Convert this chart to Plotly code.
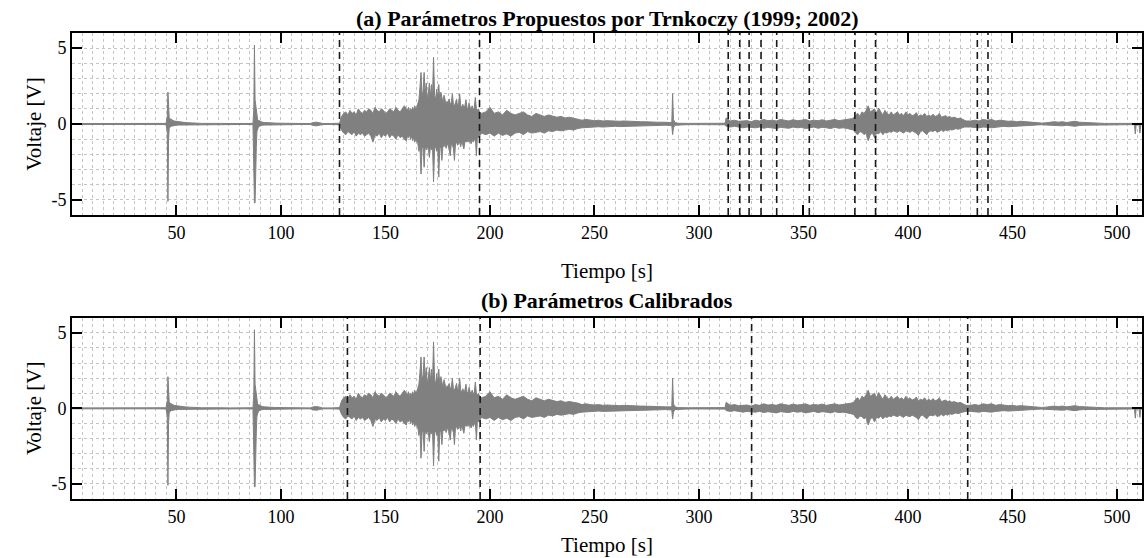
import plotly.graph_objects as go

# ---------------- data ----------------
# Segment A: quiet start, two impulsive events (~46 s, ~87.5 s), quiet
tA = [0, 10, 20, 30, 40, 45.0, 45.6, 45.9, 46.2, 46.5,
      46.9, 47.4, 48.0, 48.8, 49.8, 51, 52.5, 54, 56, 58,
      62, 68, 70.5, 71, 76, 82, 86.6, 87.0, 87.3, 87.6,
      87.9, 88.2, 88.5, 88.8, 89.2, 89.7, 90.3, 91, 92, 93.5,
      95, 97, 100, 104, 110, 114, 115.5, 117, 118.5, 120,
      124, 128]
upA = [0.03, 0.03, 0.03, 0.03, 0.03, 0.04, 0.5, 2.1, 1.3, 0.4,
       0.35, 0.3, 0.25, 0.2, 0.18, 0.15, 0.12, 0.1, 0.08, 0.06,
       0.04, 0.04, 0.07, 0.04, 0.03, 0.03, 0.04, 1.0, 5.2, 1.6,
       1.2, 0.8, 0.4, 0.3, 0.25, 0.2, 0.15, 0.12, 0.1, 0.08,
       0.07, 0.06, 0.05, 0.04, 0.03, 0.03, 0.1, 0.12, 0.08, 0.03,
       0.03, 0.05]
loA = [-0.03, -0.03, -0.03, -0.03, -0.03, -0.04, -0.5, -5.1, -1.0, -0.3,
       -0.2, -0.15, -0.12, -0.1, -0.08, -0.07, -0.06, -0.05, -0.04, -0.04,
       -0.03, -0.03, -0.06, -0.03, -0.03, -0.03, -0.04, -0.9, -5.2, -5.2,
       -5.2, -1.5, -0.5, -0.35, -0.2, -0.15, -0.1, -0.08, -0.07, -0.06,
       -0.05, -0.04, -0.04, -0.03, -0.03, -0.03, -0.1, -0.12, -0.08, -0.03,
       -0.03, -0.05]

# Segment B: onset of the main event, 129..160 s (1 s)
tB = list(range(129, 161))
upB = [0.5, 0.7, 0.8, 0.6, 0.9, 0.7, 0.8, 0.6, 1.0, 0.8,
       0.7, 0.9, 0.8, 1.0, 0.9, 0.7, 1.1, 0.9, 0.8, 1.0,
       0.9, 0.7, 0.8, 1.0, 0.9, 0.8, 1.1, 0.9, 0.8, 1.0,
       1.2, 1.0]
loB = [-0.4, -0.6, -0.7, -0.5, -0.6, -0.7, -0.5, -0.8, -0.6, -0.7,
       -0.6, -0.8, -0.7, -0.6, -0.8, -1.2, -0.7, -0.8, -0.6, -0.9,
       -0.7, -0.8, -0.6, -0.9, -0.7, -0.8, -1.0, -0.7, -0.9, -0.8,
       -1.0, -1.1]

# Segment C: strong burst, 160.5..195 s (0.5 s)
tC = [160.5 + 0.5 * i for i in range(70)]
upC = [0.9, 1.1, 0.8, 1.0, 0.9, 1.1, 0.9, 1.2, 1.0, 1.1,
       1.3, 1.6, 2.4, 3.4, 1.8, 2.2, 3.4, 1.9, 2.7, 1.6,
       2.0, 2.7, 1.8, 2.6, 1.7, 4.4, 1.9, 1.6, 2.3, 1.7,
       2.6, 1.5, 2.1, 1.6, 1.4, 1.9, 1.5, 1.3, 1.5, 1.4,
       1.65, 1.3, 1.4, 2.0, 1.3, 1.2, 1.4, 1.65, 1.2, 1.3,
       2.0, 1.2, 1.1, 1.3, 1.1, 1.2, 1.6, 1.1, 1.0, 1.4,
       1.1, 1.0, 1.2, 0.9, 1.1, 1.75, 1.0, 0.9, 1.0, 0.8]
loC = [-0.8, -0.9, -0.7, -1.0, -0.8, -1.1, -0.9, -1.2, -1.0, -1.1,
       -1.3, -1.8, -1.4, -3.3, -1.6, -1.5, -2.85, -1.4, -1.7, -1.5,
       -1.6, -2.2, -1.5, -1.7, -1.4, -3.8, -1.6, -1.5, -1.8, -1.6,
       -3.5, -1.5, -1.6, -2.4, -1.4, -1.5, -1.3, -1.6, -1.4, -1.3,
       -1.5, -2.1, -1.3, -1.4, -1.6, -2.4, -1.3, -1.2, -1.4, -1.3,
       -1.2, -1.5, -1.1, -1.3, -1.65, -1.2, -1.1, -1.2, -1.0, -1.2,
       -1.1, -1.3, -1.0, -1.2, -1.1, -0.9, -2.1, -0.8, -0.9, -0.8]

# Segment D: coda, 196..286 s (2 s)
tD = list(range(196, 287, 2))
upD = [0.7, 0.8, 1.1, 0.7, 0.8, 0.6, 0.9, 0.7, 0.6, 0.7,
       0.8, 0.6, 0.5, 0.7, 0.6, 0.5, 0.6, 0.5, 0.45, 0.5,
       0.4, 0.45, 0.4, 0.35,
       0.25, 0.3, 0.25, 0.22, 0.25, 0.2, 0.22, 0.2, 0.2, 0.18,
       0.2, 0.18, 0.15, 0.18, 0.15, 0.15, 0.13, 0.15, 0.12, 0.12,
       0.1, 0.1]
loD = [-0.6, -0.7, -0.6, -0.8, -0.6, -0.75, -0.65, -0.8, -0.6, -0.55,
       -0.7, -0.5, -0.6, -0.55, -0.5, -0.6, -0.45, -0.5, -0.4, -0.45,
       -0.4, -0.35, -0.4, -0.3,
       -0.25, -0.2, -0.22, -0.2, -0.18, -0.2, -0.17, -0.18, -0.15, -0.17,
       -0.15, -0.14, -0.15, -0.12, -0.13, -0.12, -0.1, -0.11, -0.1, -0.09,
       -0.08, -0.08]

# Segment E: small spike ~287 s and quiet
tE = [287.0, 287.4, 287.8, 288.5, 290, 295, 300, 305, 310, 312.5]
upE = [0.1, 2.0, 0.3, 0.1, 0.05, 0.04, 0.04, 0.04, 0.04, 0.05]
loE = [-0.1, -0.7, -0.25, -0.08, -0.05, -0.04, -0.04, -0.04, -0.04, -0.05]

# Segment F: 313..373 s (2 s)
tF = list(range(313, 374, 2))
upF = [0.4, 0.2, 0.25, 0.18, 0.2, 0.22, 0.15, 0.25, 0.2, 0.3,
       0.22, 0.25, 0.2, 0.3, 0.25, 0.2, 0.28, 0.22, 0.25, 0.3,
       0.2, 0.25, 0.22, 0.28, 0.2, 0.25, 0.3, 0.22, 0.25, 0.3,
       0.35]
loF = [-0.15, -0.2, -0.15, -0.2, -0.25, -0.2, -0.22, -0.25, -0.2, -0.28,
       -0.22, -0.25, -0.3, -0.22, -0.25, -0.28, -0.2, -0.25, -0.22, -0.3,
       -0.25, -0.2, -0.28, -0.22, -0.25, -0.3, -0.22, -0.28, -0.25, -0.3,
       -0.35]

# Segment G: second burst, 374..428 s (1 s)
tG = list(range(374, 429))
upG = [0.4, 0.6, 0.7, 0.5, 0.8, 0.7, 0.9, 1.2, 0.8, 0.9,
       1.0, 0.7, 1.05, 0.8, 0.6, 0.9, 0.7, 0.6, 0.8, 0.6,
       0.7, 0.8, 0.6, 0.7, 0.55, 0.8, 0.6, 0.7, 0.55, 0.6,
       0.75, 0.5, 0.6, 0.55, 0.7, 0.5, 0.6, 0.5, 0.65, 0.5,
       0.55, 0.7, 0.45, 0.5, 0.55, 0.45, 0.5, 0.4, 0.45, 0.4,
       0.35, 0.4, 0.3, 0.25, 0.2]
loG = [-0.4, -0.6, -0.7, -0.5, -0.55, -0.7, -0.6, -1.1, -0.7, -0.6,
       -0.9, -0.6, -0.65, -0.5, -0.7, -0.55, -0.6, -0.5, -0.55, -0.45,
       -0.5, -0.55, -0.45, -0.5, -0.6, -0.45, -0.5, -0.55, -0.45, -0.5,
       -0.6, -0.75, -0.5, -0.45, -0.55, -0.7, -0.5, -0.45, -0.5, -0.4,
       -0.55, -0.45, -0.4, -0.5, -0.4, -0.45, -0.35, -0.4, -0.35, -0.3,
       -0.35, -0.3, -0.25, -0.2, -0.2]

# Segment H: tail, 430..506 s (2 s)
tH = list(range(430, 507, 2))
upH = [0.2, 0.25, 0.2, 0.3, 0.25, 0.3, 0.2, 0.25, 0.2, 0.18,
       0.2, 0.15, 0.18, 0.15, 0.12, 0.1, 0.08, 0.06, 0.08, 0.12,
       0.15, 0.12, 0.15, 0.1, 0.15, 0.18, 0.12, 0.1, 0.08, 0.06,
       0.05, 0.04, 0.04, 0.04, 0.04, 0.04, 0.04, 0.04, 0.04]
loH = [-0.2, -0.2, -0.25, -0.2, -0.22, -0.25, -0.2, -0.2, -0.15, -0.18,
       -0.15, -0.15, -0.12, -0.12, -0.1, -0.08, -0.06, -0.05, -0.07, -0.1,
       -0.12, -0.1, -0.12, -0.08, -0.12, -0.15, -0.1, -0.08, -0.06, -0.05,
       -0.04, -0.04, -0.04, -0.04, -0.04, -0.04, -0.04, -0.04, -0.04]

# Segment I: two small downward spikes at the end
tI = [508.4, 508.8, 509.2, 510.6, 511.0, 511.4, 512]
upI = [0.04, 0.08, 0.04, 0.04, 0.06, 0.04, 0.04]
loI = [-0.04, -0.65, -0.05, -0.04, -0.6, -0.05, -0.04]

# Detection marks (s)
marks_a = [128, 195, 314, 319.5, 324, 329.7, 337.2, 352.8, 374.6, 384.5, 433.2, 438.3]
marks_b = [131.8, 195.3, 325.2, 428.6]

titles = ["(a) Parámetros Propuestos por Trnkoczy (1999; 2002)",
          "(b) Parámetros Calibrados"]
x_ticks = [50, 100, 150, 200, 250, 300, 350, 400, 450, 500]
y_ticks = [-5, 0, 5]
y_ticktext = ["-5", "0", "5"]

# ---------------- build ----------------
T = tA + tB + tC + tD + tE + tF + tG + tH + tI
UP = upA + upB + upC + upD + upE + upF + upG + upH + upI
LO = loA + loB + loC + loD + loE + loF + loG + loH + loI
assert len(T) == len(UP) == len(LO)

# envelope polygon: upper edge forward, lower edge backward
px = T + T[::-1]
py = UP + LO[::-1]

FONT = "Liberation Serif"
GRID = "#c4c4c4"

fig = go.Figure()
for k, marks in enumerate([marks_a, marks_b], start=1):
    xa = "x" if k == 1 else "x2"
    ya = "y" if k == 1 else "y2"
    fig.add_trace(go.Scatter(x=px, y=py, mode="lines", xaxis=xa, yaxis=ya,
                             fill="toself", fillcolor="#808080",
                             line=dict(color="#808080", width=1),
                             hoverinfo="skip", showlegend=False))
    mx, my = [], []
    for m in marks:
        mx += [m, m, None]
        my += [-6, 6, None]
    fig.add_trace(go.Scatter(x=mx, y=my, mode="lines", xaxis=xa, yaxis=ya,
                             line=dict(color="#1a1a1a", width=1.6, dash="7px,5px"),
                             hoverinfo="skip", showlegend=False))

def xaxis_cfg(anchor, standoff):
    return dict(anchor=anchor, domain=[0, 1], range=[0, 512],
                tickmode="array", tickvals=x_ticks,
                ticks="inside", ticklen=10, tickwidth=2, tickcolor="black",
                showline=True, linewidth=2, linecolor="black", mirror="allticks",
                showgrid=True, gridcolor=GRID, griddash="dot", gridwidth=1,
                minor=dict(tickmode="array", tickvals=list(range(0, 513, 5)),
                           showgrid=True, gridcolor=GRID, griddash="dot",
                           gridwidth=1, ticks=""),
                zeroline=False,
                tickfont=dict(family=FONT, size=18, color="black"),
                title=dict(text="Tiempo [s]", standoff=standoff,
                           font=dict(family=FONT, size=21, color="black")))

def yaxis_cfg(anchor, domain):
    return dict(anchor=anchor, domain=domain, range=[-6, 6],
                tickmode="array", tickvals=y_ticks, ticktext=y_ticktext,
                ticks="inside", ticklen=10, tickwidth=2, tickcolor="black",
                showline=True, linewidth=2, linecolor="black", mirror="allticks",
                showgrid=True, gridcolor=GRID, griddash="dot", gridwidth=1,
                minor=dict(tickmode="array", tickvals=list(range(-6, 7)),
                           showgrid=True, gridcolor=GRID, griddash="dot",
                           gridwidth=1, ticks=""),
                zeroline=False,
                tickfont=dict(family=FONT, size=18, color="black"),
                title=dict(text="Voltaje [V]", standoff=4,
                           font=dict(family=FONT, size=21, color="black")))

fig.update_layout(
    width=1144, height=558,
    margin=dict(l=72, r=0, t=33, b=59),
    paper_bgcolor="white", plot_bgcolor="white",
    font=dict(family=FONT),
    xaxis=xaxis_cfg("y", 22),
    yaxis=yaxis_cfg("x", [0.6094, 1.0]),
    xaxis2=xaxis_cfg("y2", 12),
    yaxis2=yaxis_cfg("x2", [0.0, 0.389]),
    showlegend=False,
)

for k, ttl in enumerate(titles):
    yref = "y domain" if k == 0 else "y2 domain"
    xref = "x domain" if k == 0 else "x2 domain"
    fig.add_annotation(text="<b>" + ttl + "</b>", x=0.5, y=1.0, xref=xref, yref=yref,
                       xanchor="center", yanchor="bottom",
                       yshift=(0 if k == 0 else 3), showarrow=False,
                       font=dict(family=FONT, size=22, color="black"))

fig.write_html("out.html")
